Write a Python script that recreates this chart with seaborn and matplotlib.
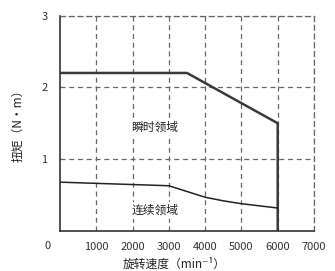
import matplotlib
matplotlib.use("Agg")
import matplotlib.pyplot as plt
import seaborn as sns
import pandas as pd
from matplotlib.ticker import MultipleLocator

sns.set_theme(style="white")
plt.rcParams['font.family'] = ['Noto Sans CJK SC', 'DejaVu Sans']

peak_speed = [0, 3500, 6000, 6000]
peak_torque = [2.2, 2.2, 1.5, 0.0]
cont_speed = [0, 3000, 3500, 4000, 4500, 5000, 5500, 6000]
cont_torque = [0.68, 0.63, 0.55, 0.47, 0.42, 0.38, 0.35, 0.32]
x_ticks = [1000, 2000, 3000, 4000, 5000, 6000, 7000]
y_ticks = [1, 2, 3]
peak_label = "瞬时领域"
cont_label = "连续领域"
x_title = "旋转速度（min⁻¹）"
y_title = "扭矩（N·m）"

fig = plt.figure(figsize=(3.35, 2.71), dpi=100)
ax = fig.add_axes([60/335, 40/271, 254/335, 215.5/271])

peak = pd.DataFrame({"speed": peak_speed, "torque": peak_torque})
cont = pd.DataFrame({"speed": cont_speed, "torque": cont_torque})
sns.lineplot(data=peak, x="speed", y="torque", sort=False, estimator=None,
             color="#3a3a3a", linewidth=1.8, ax=ax)
sns.lineplot(data=cont, x="speed", y="torque", sort=False, estimator=None,
             color="#222222", linewidth=1.1, ax=ax)

ax.set_xlim(0, 7000)
ax.set_ylim(0, 3)
ax.set_xticks(x_ticks)
ax.set_yticks(y_ticks)
ax.xaxis.set_minor_locator(MultipleLocator(200))
ax.yaxis.set_minor_locator(MultipleLocator(0.2))
ax.tick_params(axis='both', which='both', direction='in', colors='#333333',
               labelsize=8, length=4, width=0.8)
ax.tick_params(axis='both', which='minor', length=3)
ax.tick_params(axis='x', pad=8)
ax.tick_params(axis='y', pad=9)

ax.grid(True, which='major', linestyle=(0, (4, 3)), color='#666666', linewidth=0.9)
for s in ['top', 'right']:
    ax.spines[s].set_linestyle((0, (4, 3)))
    ax.spines[s].set_color('#666666')
    ax.spines[s].set_linewidth(0.9)
for s in ['left', 'bottom']:
    ax.spines[s].set_color('#333333')
    ax.spines[s].set_linewidth(1.2)

ax.set_xlabel(x_title, fontsize=8.5, color='#222222')
ax.xaxis.set_label_coords(0.45, -0.155)
ax.xaxis.label.set_va('center')
ax.set_ylabel(y_title, fontsize=8.5, color='#222222', labelpad=12)
ax.text(-0.047, -0.07, "0", transform=ax.transAxes, fontsize=8,
        color='#333333', ha='center', va='center')

box = dict(facecolor='white', edgecolor='none', pad=1.5)
ax.text(2620, 1.45, peak_label, fontsize=8.5, ha='center', va='center',
        color='#222222', bbox=box)
ax.text(2620, 0.29, cont_label, fontsize=8.5, ha='center', va='center',
        color='#222222', bbox=box)

fig.savefig("out.png", dpi=100)
